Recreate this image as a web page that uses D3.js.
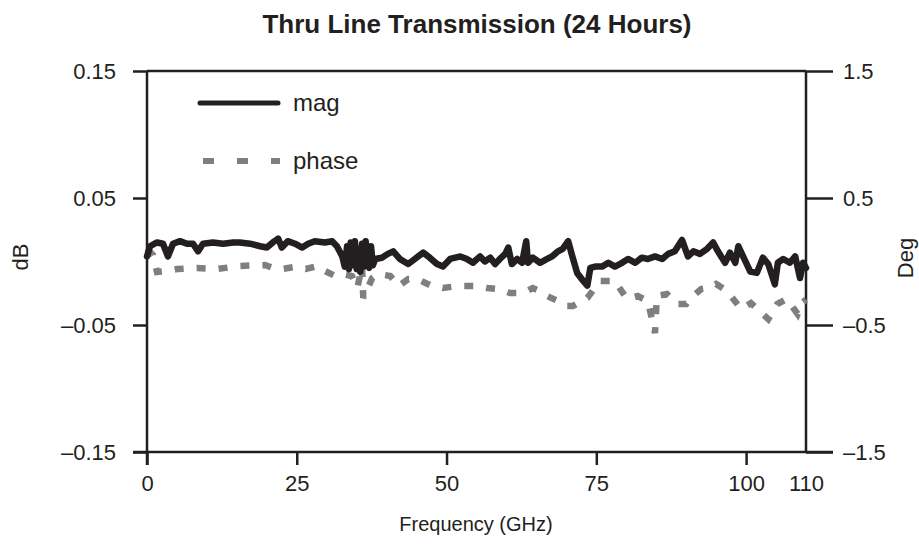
<!DOCTYPE html>
<html>
<head>
<meta charset="utf-8">
<script src="https://cdn.jsdelivr.net/npm/d3@7"></script>
<style>
  body { margin: 0; background: #fff; }
  svg text { font-family: "Liberation Sans", Arial, sans-serif; fill: #231f20; }
</style>
</head>
<body>
<svg width="919" height="546"></svg>
<script>
var svg = d3.select("svg");

// frequency (GHz) and magnitude (dB)
var magFreq = [0, 0.5, 1.67, 2.67, 3.5, 4.34, 5.51, 6.68, 7.68, 8.51, 9.35, 11, 12.7, 14.4, 15.5, 17.2, 18.9, 20, 21, 21.9,
    22.5, 23.5, 24.7, 25.9, 26.9, 28, 29.7, 30.9, 31.7, 32.6, 33, 33.4, 33.7, 34, 34.3, 34.7, 35, 35.3, 35.6, 35.9,
    36.2, 36.5, 36.8, 37.1, 37.4, 37.7, 38.1, 39.2, 40.2, 41.1, 42.2, 43.6, 44.7, 46.1, 47.2, 48.4, 49.4, 50.6, 52.3, 53.4,
    54.4, 55.6, 56.4, 57.3, 58.1, 58.9, 59.8, 60.3, 60.9, 61.8, 62.6, 63.3, 63.6, 64.4, 65.6, 66.8, 67.6, 68.6, 69.4, 70.3,
    71, 71.8, 72.6, 73.5, 74, 74.8, 76, 77, 78.1, 79.3, 80.3, 81.5, 82.6, 83.6, 84.8, 86, 87, 88.1, 89.3, 90.3,
    91.2, 92.3, 93.5, 94.5, 95.3, 96.5, 97.3, 98.2, 98.7, 99.5, 100.7, 101.8, 102.8, 103.7, 104.8, 105.3, 106.2, 107.3, 108.2, 109,
    109.5, 110];
var magValues = [0.004, 0.012, 0.015, 0.014, 0.004, 0.014, 0.016, 0.014, 0.014, 0.008, 0.014, 0.015, 0.014, 0.015, 0.015, 0.014, 0.012, 0.011, 0.015, 0.018,
    0.011, 0.016, 0.014, 0.011, 0.014, 0.016, 0.015, 0.016, 0.012, 0.004, -0.004, 0.012, -0.006, 0.015, -0.003, 0.016, -0.006, 0.010, -0.008, 0.014,
    -0.004, 0.016, -0.002, -0.005, 0.012, -0.003, 0.002, 0.003, 0.006, 0.008, 0.002, -0.002, 0.002, 0.007, 0.003, -0.002, -0.004, 0.002, 0.004, 0.002,
    -0.001, 0.004, 0.000, 0.003, -0.002, 0.002, 0.006, 0.011, -0.002, 0.002, -0.001, 0.016, -0.001, 0.003, -0.001, 0.002, 0.004, 0.008, 0.010, 0.016,
    0.004, -0.009, -0.014, -0.019, -0.005, -0.004, -0.004, -0.001, -0.004, -0.001, 0.002, -0.001, 0.003, 0.002, 0.004, 0.002, 0.006, 0.008, 0.017, 0.004,
    0.008, 0.006, 0.010, 0.015, 0.008, -0.001, 0.007, -0.001, 0.012, 0.004, -0.008, -0.009, 0.003, -0.002, -0.018, -0.001, 0.002, -0.001, 0.004, -0.013,
    -0.001, -0.005];

// frequency (GHz) and phase (deg)
var phaseFreq = [0, 1, 1.67, 3.3, 5, 8.3, 11.7, 15.5, 19.7, 21, 22.5, 24.7, 26.5, 28.5, 29.7, 31.4, 32.6, 34.2, 35.1, 35.9,
    36.1, 37.6, 38.6, 40.6, 42, 43.6, 45.1, 47.2, 49.4, 51.8, 55.1, 56.8, 58.9, 60.6, 62.8, 64.4, 65.6, 66.8, 68.6, 69.8,
    71.1, 73.5, 75.6, 78.1, 80.1, 81.9, 83.6, 84.8, 85.1, 86.8, 88.5, 90, 90.8, 92.5, 93.7, 95, 96.3, 97.2, 99.2, 100.8,
    103.7, 105.2, 106.8, 108.6, 109.3, 110];
var phaseValues = [0.10, 0.05, -0.083, -0.075, -0.059, -0.051, -0.059, -0.035, -0.028, -0.051, -0.059, -0.043, -0.059, -0.035, -0.075, -0.114, -0.098, -0.114, -0.209, -0.035,
    -0.287, -0.130, -0.098, -0.114, -0.193, -0.138, -0.138, -0.185, -0.209, -0.193, -0.193, -0.209, -0.217, -0.248, -0.248, -0.209, -0.232, -0.272, -0.311, -0.350,
    -0.350, -0.287, -0.154, -0.154, -0.295, -0.272, -0.311, -0.563, -0.272, -0.256, -0.335, -0.335, -0.287, -0.217, -0.209, -0.177, -0.217, -0.256, -0.374, -0.327,
    -0.453, -0.335, -0.295, -0.413, -0.327, -0.300];

var xTicks = [0, 25, 50, 75, 100, 110];
var dbTicks = [0.15, 0.05, -0.05, -0.15];
var degTicks = [1.5, 0.5, -0.5, -1.5];

var InkColor = "#231f20";
var PhaseColor = "#7f7f7f";

var plotLeft = 147, plotRight = 806, plotTop = 71, plotBottom = 452;

var x = d3.scaleLinear().domain([0, 110]).range([plotLeft, plotRight]);
var yDb = d3.scaleLinear().domain([-0.15, 0.15]).range([plotBottom, plotTop]);
var yDeg = d3.scaleLinear().domain([-1.5, 1.5]).range([plotBottom, plotTop]);

function fmt(v) { return String(v).replace("-", "\u2013"); }

// title
svg.append("text")
    .attr("x", 477).attr("y", 33)
    .attr("text-anchor", "middle")
    .style("font-size", "26px").style("font-weight", "bold")
    .text("Thru Line Transmission (24 Hours)");

// left axis
var gLeft = svg.append("g")
    .attr("transform", "translate(" + plotLeft + ",0)")
    .call(d3.axisLeft(yDb).tickValues(dbTicks).tickSize(14).tickPadding(17)
        .tickFormat(fmt));

// right axis
var gRight = svg.append("g")
    .attr("transform", "translate(" + plotRight + ",0)")
    .call(d3.axisRight(yDeg).tickValues(degTicks).tickSize(27).tickPadding(10)
        .tickFormat(fmt));

// bottom axis
var gBottom = svg.append("g")
    .attr("transform", "translate(0," + plotBottom + ")")
    .call(d3.axisBottom(x).tickValues(xTicks).tickSize(13).tickPadding(10));
gBottom.selectAll(".tick").filter(function (d) { return d === 110; }).select("line").remove();

[gLeft, gRight, gBottom].forEach(function (g) {
    g.select(".domain").remove();
    g.selectAll(".tick line").attr("stroke", InkColor).attr("stroke-width", 2.5);
    g.selectAll(".tick text").style("font-size", "22px").attr("fill", InkColor);
});

// frame
var frame = svg.append("g").attr("stroke", InkColor).attr("stroke-width", 2.5).attr("fill", "none");
frame.append("line").attr("x1", plotLeft).attr("x2", plotRight).attr("y1", plotTop).attr("y2", plotTop);
frame.append("line").attr("x1", plotLeft - 14).attr("x2", plotRight + 27).attr("y1", plotBottom).attr("y2", plotBottom);
frame.append("line").attr("x1", plotLeft).attr("x2", plotLeft).attr("y1", plotTop).attr("y2", plotBottom + 13);
frame.append("line").attr("x1", plotRight).attr("x2", plotRight).attr("y1", plotTop).attr("y2", plotBottom);

// axis titles
svg.append("text")
    .attr("x", 476).attr("y", 531)
    .attr("text-anchor", "middle")
    .style("font-size", "20px")
    .text("Frequency (GHz)");

svg.append("text")
    .attr("transform", "translate(28,257) rotate(-90)")
    .attr("text-anchor", "middle")
    .style("font-size", "22px")
    .text("dB");

svg.append("text")
    .attr("transform", "translate(913,258) rotate(-90)")
    .attr("text-anchor", "middle")
    .style("font-size", "22px")
    .text("Deg");

// series
var magData = magFreq.map(function (f, i) { return { f: f, v: magValues[i] }; });
var phaseData = phaseFreq.map(function (f, i) { return { f: f, v: phaseValues[i] }; });

var phaseLine = d3.line()
    .x(function (d) { return x(d.f); })
    .y(function (d) { return yDeg(d.v); });

var magLine = d3.line()
    .x(function (d) { return x(d.f); })
    .y(function (d) { return yDb(d.v); });

svg.append("path")
    .datum(phaseData)
    .attr("d", phaseLine)
    .attr("fill", "none")
    .attr("stroke", PhaseColor)
    .attr("stroke-width", 6.5)
    .attr("stroke-dasharray", "9,13");

svg.append("path")
    .datum(magData)
    .attr("d", magLine)
    .attr("fill", "none")
    .attr("stroke", InkColor)
    .attr("stroke-width", 6.5)
    .attr("stroke-linejoin", "round")
    .attr("stroke-linecap", "round");

// legend
var legend = svg.append("g");
legend.append("line")
    .attr("x1", 200).attr("x2", 278).attr("y1", 103).attr("y2", 103)
    .attr("stroke", InkColor).attr("stroke-width", 5).attr("stroke-linecap", "round");
legend.append("text")
    .attr("x", 293).attr("y", 111)
    .style("font-size", "24px")
    .text("mag");
legend.append("line")
    .attr("x1", 203).attr("x2", 280).attr("y1", 161).attr("y2", 161)
    .attr("stroke", PhaseColor).attr("stroke-width", 6).attr("stroke-dasharray", "11,23");
legend.append("text")
    .attr("x", 293).attr("y", 169)
    .style("font-size", "24px")
    .text("phase");
</script>
</body>
</html>
